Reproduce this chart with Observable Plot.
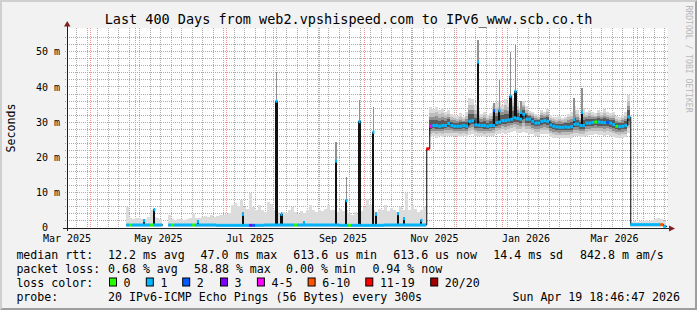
<!DOCTYPE html>
<html><head><meta charset="utf-8">
<script src="https://cdn.jsdelivr.net/npm/d3@7"></script>
<script src="https://cdn.jsdelivr.net/npm/@observablehq/plot@0.6"></script>
<style>
html,body{margin:0;padding:0;background:#f2f2f2;}
#chart{width:697px;height:310px;overflow:hidden;}
svg{display:block}
</style></head><body><div id="chart"></div>
<script>
const FONT = "DejaVu Sans Mono";
const title = "Last 400 Days from web2.vpshispeed.com to IPv6_www.scb.co.th";
const yLabel = "Seconds";
const watermark = "RRDTOOL / TOBI OETIKER";
const xDomain = ["2025-03-16T12:00Z", "2026-04-20T12:00Z"];
const yDomain = [0, 56.72];
const yTicks = [0, 10, 20, 30, 40, 50];
const yTickLabels = ["0\u00a0\u00a0", "10 m", "20 m", "30 m", "40 m", "50 m"];
const xLabelDates = ["2025-03-16T12:00Z", "2025-05-16T12:00Z", "2025-07-16T12:00Z", "2025-09-16T12:00Z", "2025-11-16T12:00Z", "2026-01-16T12:00Z", "2026-03-16T12:00Z"];
const xTickLabels = ["Mar 2025", "May 2025", "Jul 2025", "Sep 2025", "Nov 2025", "Jan 2026", "Mar 2026"];

// 2-day consolidated bins starting here
const binStart = "2025-04-25T00:00Z";
const binDays = 2;

// median RTT (ms) per bin
const median = [
 1.0,1.0,1.0,1.0,1.0,1.0,1.0,1.0,1.0,1.0,1.0,1.0, null,null,
 1.0,1.0,1.0,1.0,1.0,1.0,1.0,1.0,1.0,1.0,1.0,1.0,1.0,1.0,1.0,1.0,
 0.9,0.9,0.9,0.9,0.9,0.9,0.9,0.9,0.9,0.9,0.9,0.9,0.9,0.9,0.9,0.9,
 1.0,1.0,1.0,1.0,1.0,1.0,1.0,1.0,1.0,1.0,1.0,1.0,1.0,1.0,1.0,1.0,1.0,1.0,1.0,1.0,1.0,1.0,1.0,1.0,1.0,
 0.9,0.9,0.9,0.9,0.9,0.9,0.9,0.9,0.9,0.9,0.9,0.9,0.9,0.9,0.9,
 1.0,1.0,1.0,1.0,1.0,1.0,1.0,1.0,1.0,1.0,1.0,1.0,1.0,1.0,
 22.6,
 29.0,29.2,29.2,29.0,29.2,29.2,29.8,29.2,29.0,29.0,29.0,29.2,29.0,30.4,30.6,29.4,29.3,29.2,29.2,29.0,
 29.2,29.2,30.0,30.2,30.6,30.6,30.8,31.0,31.4,31.2,31.0,32.4,31.0,31.0,30.4,29.9,29.9,30.4,30.6,30.4,
 29.4,29.0,28.8,28.7,28.7,28.8,28.7,28.9,29.6,29.6,29.2,29.2,29.9,29.9,30.1,30.2,30.2,30.1,30.0,30.1,
 29.9,29.5,29.0,28.9,29.0,29.2,31.6,
 1.1,1.1,1.1,1.1,1.1,1.1,1.1,1.1,1.1,1.1,1.1,0.6
];
// upper edge of the smoke (ms) per bin
const smokeHi = [
 6.0,2.7,2.6,2.8,2.7,2.6,2.5,3.0,5.0,3.0,2.7,2.6, null,null,
 3.6,2.5,2.4,2.5,2.6,2.4,2.6,2.8,4.0,2.8,2.7,3.0,3.4,3.2,3.6,3.0,3.4,3.6,3.8,4.0,
 4.2,6.5,7.0,6.2,7.8,6.0,5.5,9.8,6.0,5.0,6.5,5.2,4.6,7.3,6.8,5.0,4.5,4.0,4.5,4.2,
 5.0,6.0,4.5,4.0,4.8,4.2,5.0,6.5,5.0,4.6,5.2,4.8,5.5,6.5,5.0,5.2,4.6,5.4,4.8,5.0,
 4.2,3.8,4.5,4.0,4.8,6.0,8.2,6.5,5.0,4.5,5.5,5.0,6.5,4.8,5.6,5.0,4.4,6.0,5.2,9.8,
 5.0,6.5,5.4,4.4,5.0,6.0,
 null,
 34.2,33.8,34.4,33.5,34.0,33.0,33.4,32.2,32.0,31.8,32.5,31.6,33.0,36.8,36.5,35.0,33.2,32.4,33.0,32.0,
 32.6,34.5,35.5,36.0,35.0,36.5,35.5,38.0,37.0,36.0,34.0,36.0,34.5,33.2,33.0,32.4,32.0,33.5,33.0,33.8,
 32.0,31.5,31.4,31.8,31.2,31.6,32.4,33.0,34.5,33.5,32.0,34.0,33.0,33.5,33.0,32.5,33.4,33.0,33.8,33.0,
 32.6,33.0,31.8,31.4,32.0,32.8,37.7,
 1.8,1.9,1.8,2.0,2.0,2.2,2.1,2.3,2.6,2.8,2.5,2.0
];
// lower edge of the smoke (ms) per bin, where it lies below the median
const smokeLo = [
 null,null,null,null,null,null,null,null,null,null,null,null,null,null,null,null,null,null,null,null,
 null,null,null,null,null,null,null,null,null,null,null,null,null,null,null,null,null,null,null,null,
 null,null,null,null,null,null,null,null,null,null,null,null,null,null,null,null,null,null,null,null,
 null,null,null,null,null,null,null,null,null,null,null,null,null,null,null,null,null,null,null,null,
 null,null,null,null,null,null,null,null,null,null,null,null,null,null,null,null,null,null,null,null,
 null,
 25.8,26.0,25.6,26.0,25.8,26.2,26.0,26.2,26.0,26.0,25.8,26.0,25.8,26.4,26.6,26.2,26.0,26.0,25.8,26.0,
 26.0,26.2,26.6,26.8,27.0,26.8,27.0,27.2,27.4,27.0,27.0,27.2,27.0,26.8,26.6,26.2,26.2,26.6,26.8,26.6,
 25.8,25.6,25.4,25.4,25.6,25.4,25.6,25.6,26.0,26.0,25.8,25.8,26.2,26.4,26.4,26.6,26.4,26.4,26.2,26.4,
 26.0,25.8,25.6,25.4,25.6,25.8,27.0,
 null,null,null,null,null,null,null,null,null,null,null,null
];
// packet-loss class per bin (index into lossColors)
const lossIdx = [
 1,0,1,1,1,1,1,1,0,1,1,1,1,1,1,0,1,1,1,1, 1,1,0,1,1,1,1,1,1,1,1,1,1,1,1,1,1,1,1,1,
 1,3,2,1,1,1,1,1,1,1,1,1,1,1,1,1,0,1,1,1, 1,1,1,1,1,1,1,1,1,1,1,1,1,1,0,1,1,1,1,1,
 1,1,1,1,1,1,1,1,1,1,1,1,1,1,1,1,1,1,1,1, 6,4,1,1,1,1,1,1,1,1,1,1,1,1,1,1,1,1,1,1,
 1,1,1,1,1,1,1,1,1,1,1,1,1,1,1,1,1,1,1,1, 1,1,1,1,1,1,1,1,1,1,1,1,1,1,1,1,0,1,1,1,
 2,1,1,0,1,1,1,1,1,1,1,1,1,1,1,1,1,1,5,1
];

// short single-step excursions
const spikeTime = ["2025-05-06T20:00Z","2025-05-13T19:00Z","2025-06-11T19:00Z","2025-07-11T19:00Z","2025-08-03T04:00Z","2025-08-06T12:00Z","2025-08-21T12:00Z","2025-09-11T19:00Z","2025-09-18T19:00Z","2025-09-27T12:00Z","2025-10-06T19:00Z","2025-10-08T12:00Z","2025-10-23T04:00Z","2025-10-27T04:00Z","2025-11-07T19:00Z","2025-12-15T12:00Z","2025-12-26T04:00Z","2025-12-29T19:00Z","2026-01-06T04:00Z","2026-01-09T12:00Z","2026-01-13T04:00Z","2026-02-17T12:00Z","2026-02-22T19:00Z"];
const spikeMedian = [2.2,5.3,2.0,4.0,36.1,4.0,1.7,19.1,7.9,30.3,27.3,4.0,4.2,2.8,2.3,47.2,33.4,33.4,37.5,38.9,32.9,30.8,32.9];
const spikeTop =    [2.6,5.8,2.4,4.4,44.2,4.5,2.0,24.5,14.5,36.3,34.4,4.4,4.6,3.2,2.6,53.3,35.5,42.0,50.0,51.9,36.0,36.8,39.6];
const spikeLoss =   [1,1,1,1,1,1,1,1,1,1,1,1,1,1,1,1,2,1,1,1,1,1,1];

const lossColors = ["#26ff00","#00b8ff","#0059ff","#7e00ff","#ff00ff","#ff5500","#ff0000","#a10000"];
const lossLabels = ["0","1","2","3","4-5","6-10","11-19","20/20"];

const statsRtt = ["median rtt:", "12.2 ms avg", "47.0 ms max", "613.6 us min", "613.6 us now", "14.4 ms sd", "842.8 m am/s"];
const statsLoss = ["packet loss:", "0.68 % avg", "58.88 % max", "0.00 % min", "0.94 % now"];
const lossRowLabel = "loss color:";
const probeLabel = "probe:";
const probeText = "20 IPv6-ICMP Echo Pings (56 Bytes) every 300s";
const stamp = "Sun Apr 19 18:46:47 2026";

// ---------- build records ----------
const DAY = 864e5;
const T0 = new Date(binStart).getTime();
const bins = median.map((m, i) => ({
  t0: new Date(T0 + i * binDays * DAY), t1: new Date(T0 + (i + 1) * binDays * DAY),
  med: m, hi: smokeHi[i], lo: smokeLo[i], loss: lossIdx[i]
}));
const lineData = [];
for (const b of bins) {
  if (b.med == null) lineData.push({t: b.t0, v: NaN});
  else lineData.push({t: b.t0, v: b.med}, {t: b.t1, v: b.med});
}
const lowSmoke = bins.filter(b => b.hi != null && b.lo == null);
const bandSmoke = bins.filter(b => b.hi != null && b.lo != null);
const layers = [[1, "#dadada"], [0.72, "#bdbdbd"], [0.5, "#929292"], [0.3, "#5a5a5a"]];
const spikes = spikeTime.map((s, i) => {
  const t = new Date(s);
  const b = bins.find(b => t >= b.t0 && t < b.t1);
  return {t, a: new Date(t.getTime() - 0.7 * DAY), z: new Date(t.getTime() + 0.7 * DAY),
          a2: new Date(t.getTime() - 0.4 * DAY), z2: new Date(t.getTime() + 0.4 * DAY),
          base: b && b.med != null ? b.med : 0, med: spikeMedian[i], top: spikeTop[i], loss: spikeLoss[i]};
});

const xStart = new Date(xDomain[0]), xEnd = new Date(xDomain[1]);
const weekTicks = d3.utcSunday.range(xStart, xEnd);
const monthTicks = d3.utcMonth.range(xStart, xEnd);
const yMinor = d3.range(2, 56, 2).filter(v => v % 10 !== 0);

const chart = Plot.plot({
  width: 697, height: 310,
  marginLeft: 67, marginRight: 30, marginTop: 28, marginBottom: 82,
  x: {type: "utc", domain: [xStart, xEnd], axis: null},
  y: {domain: yDomain, axis: null},
  color: {type: "identity"},
  style: {fontFamily: FONT, background: "transparent", overflow: "visible"},
  marks: [
    Plot.frame({fill: "#ffffff", stroke: "none"}),
    Plot.rect(lowSmoke, {x1: "t0", x2: "t1", y1: 0.4, y2: "hi", fill: "#dcdcdc", shapeRendering: "crispEdges"}),
    ...layers.map(([k, c]) => Plot.rect(bandSmoke, {
      x1: "t0", x2: "t1",
      y1: b => b.med - k * (b.med - b.lo), y2: b => b.med + k * (b.hi - b.med),
      fill: c, shapeRendering: "crispEdges"})),
    Plot.rect(spikes, {x1: "a2", x2: "z2", y1: "med", y2: "top", fill: "#8f8f8f", shapeRendering: "crispEdges"}),
    Plot.line(lineData, {x: "t", y: "v", stroke: "#000", strokeWidth: 1}),
    Plot.rect(spikes, {x1: "a", x2: "z", y1: "base", y2: "med", fill: "#111", shapeRendering: "crispEdges"}),
    Plot.ruleY(bins.filter(b => b.med != null), {x1: "t0", x2: "t1", y: "med", stroke: b => lossColors[b.loss], strokeWidth: 3}),
    Plot.ruleY(spikes, {x1: "a", x2: "z", y: "med", stroke: s => lossColors[s.loss], strokeWidth: 3}),
    Plot.ruleY([0], {stroke: "#1f1f1f", insetLeft: -4, insetRight: -2}),
    Plot.ruleX([xStart], {stroke: "#1f1f1f", insetTop: -2, insetBottom: -3})
  ]
});
document.getElementById("chart").appendChild(chart);

const svg = d3.select(chart);
const xs = chart.scale("x"), ys = chart.scale("y");
const X0 = xs.apply(xStart), X1 = xs.apply(xEnd), Y0 = ys.apply(0), YT = ys.apply(yDomain[1]);

// ---------- dotted grid, placed from the plot's own scales, right above the white canvas ----------
const frameNode = chart.querySelector('[aria-label="frame"]');
let frameTop = frameNode;
while (frameTop && frameTop.parentNode !== chart) frameTop = frameTop.parentNode;
const gridBefore = frameTop ? frameTop.nextSibling : chart.firstChild;
const grid = svg.insert("g", () => gridBefore).attr("shape-rendering", "crispEdges").attr("stroke-dasharray", "1,1");
const gx0 = Math.round(X0) - 2, gx1 = Math.round(X1) + 2, gy0 = Math.round(YT), gy1 = Math.round(Y0) + 2;
function vline(t, color) { const x = Math.floor(xs.apply(t)) + 0.5; grid.append("line").attr("x1", x).attr("x2", x).attr("y1", gy0).attr("y2", gy1).attr("stroke", color); }
function hline(v, color) { const y = Math.floor(ys.apply(v)) + 0.5; grid.append("line").attr("x1", gx0).attr("x2", gx1).attr("y1", y).attr("y2", y).attr("stroke", color); }
weekTicks.forEach(t => vline(t, "#ababab"));
yMinor.forEach(v => hline(v, "#ababab"));
monthTicks.forEach(t => vline(t, "#eb9595"));
yTicks.slice(1).forEach(v => hline(v, "#eb9595"));

// ---------- text & decorations ----------
svg.insert("rect", ":first-child").attr("x", 0).attr("y", 0).attr("width", 697).attr("height", 310).attr("fill", "#f2f2f2");
svg.append("polygon").attr("points", "0,0 697,0 695,2 2,2 2,308 0,310").attr("fill", "#cfcfcf");
svg.append("polygon").attr("points", "697,0 697,310 0,310 2,308 695,308 695,2").attr("fill", "#9e9e9e");
svg.append("polygon").attr("points", `${X0-3},${YT-1.5} ${X0+3.5},${YT-1.5} ${X0+0.25},${YT-7}`).attr("fill", "#801f1f");
svg.append("polygon").attr("points", `${X1+2},${Y0-2.5} ${X1+2},${Y0+3.5} ${X1+8},${Y0+0.5}`).attr("fill", "#801f1f");

const txt = (x, y, s, size, anchor = "start", fill = "#000") =>
  svg.append("text").attr("x", x).attr("y", y).attr("font-family", FONT).attr("font-size", size)
     .attr("text-anchor", anchor).attr("fill", fill).text(s);

txt(348.5, 24, title, 13.5, "middle");
svg.append("text").attr("transform", "translate(14.5,128) rotate(-90)").attr("font-family", FONT)
   .attr("font-size", 11.6).attr("text-anchor", "middle").text(yLabel);
svg.append("text").attr("transform", "translate(685.5,59) rotate(90)").attr("font-family", FONT)
   .attr("font-size", 8.1).attr("text-anchor", "middle").attr("fill", "#b8b8b8").text(watermark);

yTicks.forEach((v, i) => txt(60, ys.apply(v) + (v === 0 ? 3 : 3.6), yTickLabels[i], 10, "end"));
xLabelDates.forEach((d, i) => txt(xs.apply(new Date(d)), 241.5, xTickLabels[i], 10, "middle"));

const LF = 11.6;
const rows = [258.5, 272.5, 286.5, 300.5];
const rttX = [16.4, 108, 200.5, 293.3, 393.3, 493.3, 580];
statsRtt.forEach((s, i) => txt(rttX[i], rows[0], s, LF));
const lossX = [16.4, 108, 194, 286, 372.4];
statsLoss.forEach((s, i) => txt(lossX[i], rows[1], s, LF));
txt(16.4, rows[2], lossRowLabel, LF);
const boxX = [109, 145.8, 182.2, 220, 256.9, 307.6, 365.3, 430.2];
lossLabels.forEach((s, i) => {
  svg.append("rect").attr("x", boxX[i] + 0.5).attr("y", rows[2] - 8.5).attr("width", 7).attr("height", 8)
     .attr("fill", lossColors[i]).attr("stroke", "#000").attr("stroke-width", 1);
  txt(boxX[i] + 14.6, rows[2], s, LF);
});
txt(16.4, rows[3], probeLabel, LF);
txt(108, rows[3], probeText, LF);
txt(680, rows[3], stamp, LF, "end");
</script></body></html>
